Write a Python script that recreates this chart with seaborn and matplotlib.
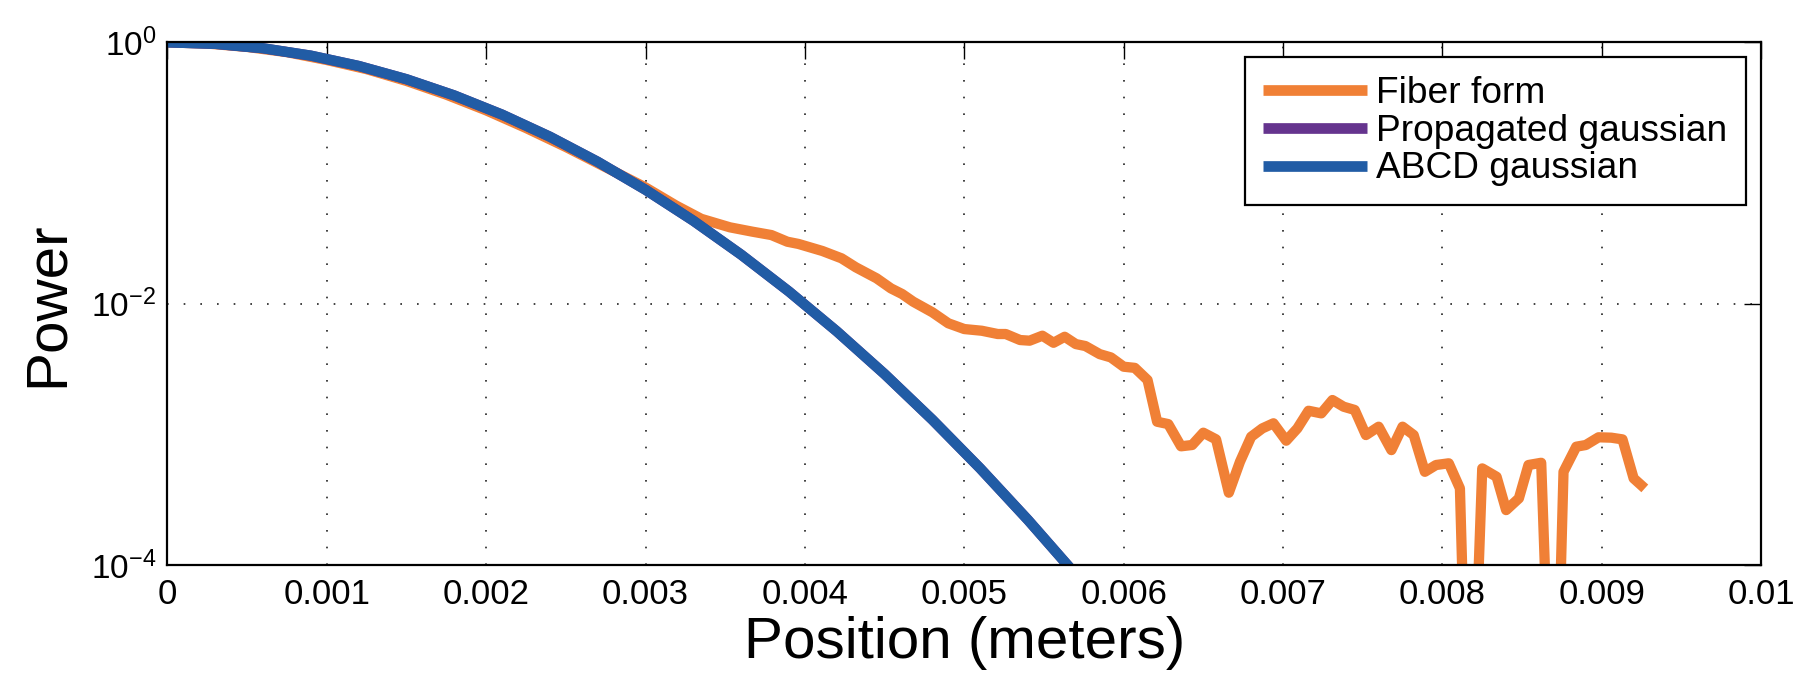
import numpy as np
import pandas as pd
import matplotlib
matplotlib.use("Agg")
import matplotlib.pyplot as plt
from matplotlib.ticker import FixedLocator, NullLocator, LogFormatterSciNotation
import seaborn as sns

# ---- data (power given as log10 values) ----
fiber_x = [0.0, 0.00025, 0.0005, 0.00075, 0.001, 0.00125, 0.0015, 0.00175, 0.002,
           0.00225, 0.0025, 0.00275, 0.003, 0.003194, 0.00335, 0.00353, 0.00367,
           0.00379, 0.00389, 0.00396, 0.00411, 0.00423, 0.00432, 0.00445, 0.00454,
           0.00461, 0.00468, 0.0048, 0.0049, 0.005, 0.00511, 0.00521, 0.00526,
           0.00535, 0.00541, 0.00549, 0.00556, 0.00563, 0.0057, 0.00576, 0.00585,
           0.00592, 0.006, 0.00607, 0.00615, 0.00621, 0.00628, 0.00636, 0.00643,
           0.0065, 0.00658, 0.00666, 0.00673, 0.0068, 0.00687, 0.00694, 0.00702,
           0.00709, 0.00716, 0.00724, 0.00731, 0.00738, 0.00745, 0.00752, 0.0076,
           0.00768, 0.00775, 0.00782, 0.00789, 0.00796, 0.00804, 0.00811, 0.00817,
           0.00825, 0.00834, 0.0084, 0.00848, 0.00854, 0.00862, 0.0087, 0.00876,
           0.00884, 0.0089, 0.00898, 0.00906, 0.00913, 0.0092, 0.00927]
fiber_log = [0.0, -0.009, -0.035, -0.075, -0.135, -0.205, -0.295, -0.40, -0.52,
             -0.655, -0.80, -0.955, -1.11, -1.25, -1.35, -1.415, -1.448,
             -1.474, -1.525, -1.542, -1.596, -1.652, -1.721, -1.805, -1.882,
             -1.925, -1.984, -2.065, -2.149, -2.193, -2.206, -2.231, -2.231,
             -2.277, -2.282, -2.244, -2.298, -2.252, -2.308, -2.323, -2.385,
             -2.41, -2.481, -2.49, -2.583, -2.902, -2.92, -3.09, -3.08,
             -2.986, -3.037, -3.445, -3.208, -3.017, -2.953, -2.914, -3.047,
             -2.953, -2.818, -2.838, -2.736, -2.787, -2.812, -3.004, -2.94,
             -3.119, -2.94, -3.004, -3.285, -3.233, -3.22, -3.412, -6.0,
             -3.259, -3.323, -3.578, -3.488, -3.233, -3.216, -6.0, -3.285,
             -3.093, -3.08, -3.021, -3.024, -3.037, -3.335, -3.412]

gauss_x = [0.0, 0.0003, 0.0006, 0.0009, 0.0012, 0.0015, 0.0018, 0.0021, 0.0024,
           0.0027, 0.0030, 0.0033, 0.0036, 0.0039, 0.0042, 0.0045, 0.0048,
           0.0051, 0.0054, 0.0057, 0.0060]
gauss_log = [0.0, -0.0113, -0.0451, -0.1015, -0.1804, -0.2819, -0.406, -0.5526,
             -0.7217, -0.9134, -1.1277, -1.3645, -1.6239, -1.9058, -2.2103,
             -2.5373, -2.8869, -3.259, -3.6537, -4.071, -4.51]

series_names = ["Fiber form", "Propagated gaussian", "ABCD gaussian"]
series_colors = ["#F08036", "#65348E", "#215CA5"]

x_ticks = [0.0, 0.001, 0.002, 0.003, 0.004, 0.005, 0.006, 0.007, 0.008, 0.009, 0.01]
x_tick_labels = ["0", "0.001", "0.002", "0.003", "0.004", "0.005", "0.006",
                 "0.007", "0.008", "0.009", "0.01"]
y_ticks = [1e-4, 1e-2, 1e0]

fiber = pd.DataFrame({"x": fiber_x, "p": np.power(10.0, fiber_log)})
propagated = pd.DataFrame({"x": gauss_x, "p": np.power(10.0, gauss_log)})
abcd = pd.DataFrame({"x": gauss_x, "p": np.power(10.0, gauss_log)})

# ---- style ----
sns.set_style("white")
plt.rcParams["font.family"] = ["Liberation Sans", "DejaVu Sans"]
plt.rcParams["mathtext.fontset"] = "custom"
plt.rcParams["mathtext.rm"] = "Liberation Sans"
plt.rcParams["mathtext.it"] = "Liberation Sans:italic"
for key in ["text.color", "axes.labelcolor", "xtick.color", "ytick.color"]:
    plt.rcParams[key] = "black"

fig = plt.figure(figsize=(17.98, 6.79), dpi=100)
ax = fig.add_axes([0.0931, 0.1675, 0.8864, 0.7701])

lw = 7.4
for df, name, col in zip([fiber, propagated, abcd], series_names, series_colors):
    sns.lineplot(data=df, x="x", y="p", ax=ax, color=col, linewidth=lw,
                 label=name, solid_capstyle="butt", sort=False)

ax.set_yscale("log")
ax.set_xlim(0, 0.01)
ax.set_ylim(1e-4, 1e0)

ax.xaxis.set_major_locator(FixedLocator(x_ticks))
ax.set_xticklabels(x_tick_labels, fontfamily=["Liberation Sans Narrow", "Liberation Sans"],
                   fontsize=25)
ax.yaxis.set_major_locator(FixedLocator(y_ticks))
ax.yaxis.set_major_formatter(LogFormatterSciNotation())
ax.yaxis.set_minor_locator(NullLocator())
ax.xaxis.set_minor_locator(NullLocator())

ax.tick_params(axis="both", which="major", direction="in", length=12, width=1.0,
               top=True, right=True, colors="black")
ax.tick_params(axis="x", pad=9)
ax.tick_params(axis="y", pad=8, labelsize=24)

ax.grid(True, which="major", linestyle=(0, (1, 9)), color="#222222", linewidth=1.2)
for s in ax.spines.values():
    s.set_color("black")
    s.set_linewidth(1.6)

ax.set_xlabel("Position (meters)", fontsize=42, labelpad=4)
ax.set_ylabel("Power", fontsize=42, labelpad=12)

leg = ax.legend(loc="upper right", bbox_to_anchor=(0.9905, 0.972), fontsize=26.7,
                frameon=True, fancybox=False, edgecolor="black", framealpha=1,
                handlelength=2.8, handletextpad=0.25, labelspacing=0.08,
                borderpad=0.5, borderaxespad=0)
leg.get_frame().set_linewidth(1.6)
for h in leg.get_lines():
    h.set_linewidth(7.7)
    h.set_solid_capstyle("butt")

fig.savefig("out.png", dpi=100)
